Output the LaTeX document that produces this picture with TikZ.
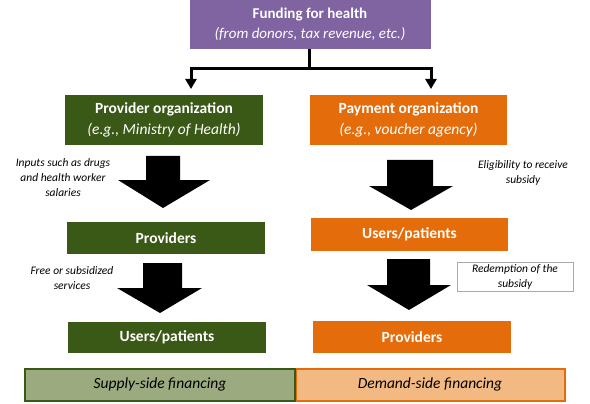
\documentclass[tikz,border=0pt]{standalone}
\usepackage{fontspec}
\setmainfont{Carlito}
\usetikzlibrary{arrows.meta}
\definecolor{fundpurple}{RGB}{128,100,162}
\definecolor{dkgreen}{RGB}{58,88,22}
\definecolor{dkorange}{RGB}{228,108,10}
\definecolor{ltgreen}{RGB}{155,170,127}
\definecolor{ltorange}{RGB}{243,185,131}
\definecolor{boxgray}{RGB}{170,170,170}
\tikzset{
  fundbox/.style={fill=fundpurple, text=white, minimum width=241pt, minimum height=49pt, align=center, inner sep=0pt, font=\fontsize{15}{20}\selectfont},
  gbox/.style={fill=dkgreen, text=white, minimum width=198pt, align=center, inner sep=0pt, font=\fontsize{15.5}{21}\selectfont\bfseries},
  obox/.style={fill=dkorange, text=white, minimum width=197pt, align=center, inner sep=0pt, font=\fontsize{15.5}{21}\selectfont\bfseries},
  note/.style={align=center, inner sep=0pt, font=\fontsize{11.5}{15}\selectfont\itshape},
  blockarrow/.style={fill=black},
  toparrow/.style={line width=3pt, -{Triangle[width=11pt,length=10pt]}},
  barbox/.style={line width=2pt, minimum height=32pt, inner sep=0pt, font=\fontsize{15.5}{18}\selectfont\itshape}
}
\begin{document}
\begin{tikzpicture}[x=1pt,y=-1pt]
\useasboundingbox (0,0) rectangle (590,404);
\node[fundbox] (fund) at (310,24.5) {\textbf{Funding for health}\\\textit{(from donors, tax revenue, etc.)}};
\node[gbox, minimum height=50pt] (provorg) at (164,120) {Provider organization\\\mdseries\itshape (e.g., Ministry of Health)};
\node[obox, minimum height=50pt] (payorg) at (408.5,120) {Payment organization\\\mdseries\itshape (e.g., voucher agency)};
\node[gbox, minimum height=32pt] (provL) at (166,238) {Providers};
\node[gbox, minimum height=31pt] (usersL) at (167,337.5) {Users/patients};
\node[obox, minimum height=33pt] (usersR) at (409.5,234.5) {Users/patients};
\node[obox, minimum width=198pt, minimum height=32pt] (provR) at (412,337) {Providers};
% top connector
\coordinate (junc) at (309,69);
\coordinate (endL) at (191,89);
\coordinate (endR) at (431,89);
\draw[line width=3pt] (fund.south -| junc) -- (junc);
\draw[toparrow] ([xshift=1.5pt]junc) -| (endL);
\draw[toparrow] ([xshift=-1.5pt]junc) -| (endR);
% block arrows
\fill[blockarrow] (146,156) -- (180,156) -- (180,180) -- (210,180) -- (163,208) -- (118,180) -- (146,180) -- cycle;
\fill[blockarrow] (143,263) -- (182,263) -- (182,288) -- (202,288) -- (160,313) -- (117,288) -- (143,288) -- cycle;
\fill[blockarrow] (387,160) -- (433,160) -- (433,186) -- (453,186) -- (411,210) -- (369,186) -- (387,186) -- cycle;
\fill[blockarrow] (387,259) -- (430,259) -- (430,285) -- (451,285) -- (409,310) -- (367,285) -- (387,285) -- cycle;
% notes
\node[note] (n1) at (63,177.5) {Inputs such as drugs\\and health worker\\salaries};
\node[note] (n2) at (72,278.5) {Free or subsidized\\services};
\node[note] (n3) at (523,172.5) {Eligibility to receive\\subsidy};
\node[note, draw=boxgray, line width=0.6pt, minimum width=116pt, minimum height=29pt] (n4) at (515,276.5) {Redemption of the\\subsidy};
% bottom bar
\node[barbox, fill=ltorange, draw=dkorange, minimum width=269pt] (dem) at (430,384.5) {Demand-side financing};
\node[barbox, fill=ltgreen, draw=dkgreen, minimum width=270pt] (sup) at (160,384.5) {Supply-side financing};
\end{tikzpicture}
\end{document}
